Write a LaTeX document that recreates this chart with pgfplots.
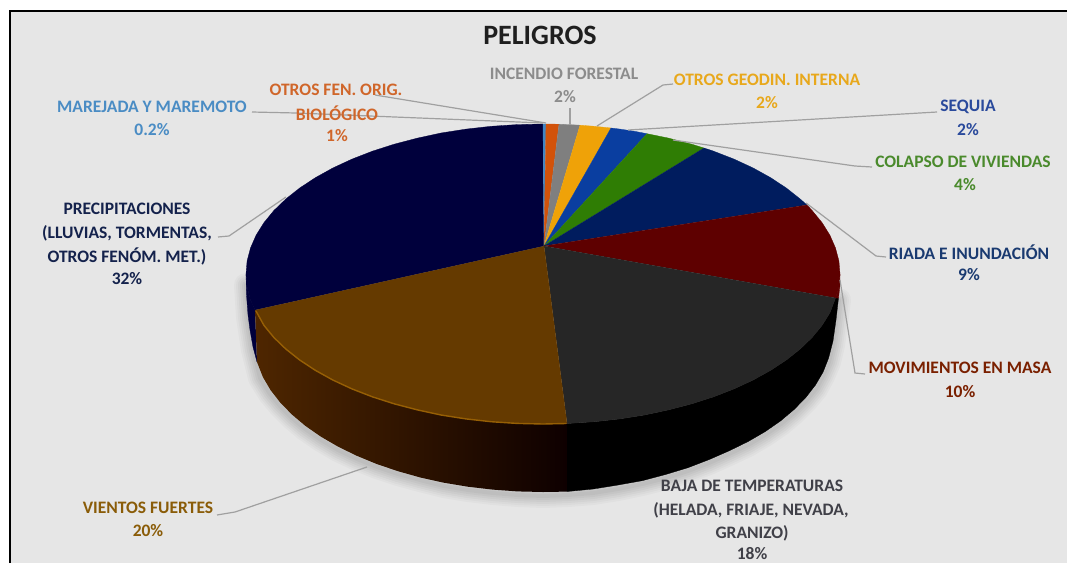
\documentclass[border=0pt]{standalone}
\usepackage{fontspec}
\setmainfont{Carlito}
\usepackage{pgfplots}
\pgfplotsset{compat=1.18}
\definecolor{bgc}{HTML}{E6E6E6}
\definecolor{cMar}{HTML}{3F86C4}
\definecolor{cFen}{HTML}{D2520A}
\definecolor{cInc}{HTML}{7F7F7F}
\definecolor{cGeo}{HTML}{EFA208}
\definecolor{cSeq}{HTML}{0A3EA0}
\definecolor{cCol}{HTML}{2F7D04}
\definecolor{cRia}{HTML}{001C5E}
\definecolor{cMov}{HTML}{5E0000}
\definecolor{cBaj}{HTML}{262626}
\definecolor{cVie}{HTML}{653A00}
\definecolor{cPre}{HTML}{00003C}
\definecolor{tMar}{HTML}{4A8CC4}
\definecolor{tFen}{HTML}{D0662A}
\definecolor{tInc}{HTML}{8C8C8C}
\definecolor{tGeo}{HTML}{E8A81C}
\definecolor{tSeq}{HTML}{2A4A9C}
\definecolor{tCol}{HTML}{4A8A2C}
\definecolor{tRia}{HTML}{1A3A70}
\definecolor{tMov}{HTML}{7A2000}
\definecolor{tBaj}{HTML}{404048}
\definecolor{tVie}{HTML}{8A5C08}
\definecolor{tPre}{HTML}{14224C}
\definecolor{ldr}{HTML}{A0A0A0}
\newcommand{\lbl}[4]{\node[text=#1,font=\fontsize{17.5}{20}\selectfont\bfseries,inner sep=0pt] at (axis cs:#2,#3) {#4};}
\newcommand{\shadowpts}{(246,285)(248,317)(253,350)(260,378)(270,394)(280,406)(292,418)(305,429)(321,440)(338,450)(357,459)(377,467)(398,474)(420,480)(444,486)(468,490)(493,493)(518,495)(543,496)(568,495)(593,493)(618,489)(642,484)(666,478)(688,471)(709,463)(729,454)(748,445)(765,435)(781,424)(794,413)(806,401)(816,389)(823,376)(829,362)(833,345)(836,324)(839,300)}
\begin{document}
\begin{tikzpicture}
\begin{axis}[
  width=1067pt,height=563pt,scale only axis,
  xmin=0,xmax=1067,ymin=0,ymax=563,y dir=reverse,
  hide axis,no markers,
]
% page and panel
\addplot[fill=white,draw=none] coordinates {(0,0)(1067,0)(1067,563)(0,563)};
\addplot[fill=bgc,draw=none] coordinates {(10,11)(1067,11)(1067,563)(10,563)};
\addplot[black,line width=2pt] coordinates {(10,563)(10,11)(1067,11)};
% soft shadow
\addplot[black,opacity=0.025,line width=24pt,line join=round,line cap=round] coordinates {\shadowpts};
\addplot[black,opacity=0.025,line width=20pt,line join=round,line cap=round] coordinates {\shadowpts};
\addplot[black,opacity=0.03,line width=16pt,line join=round,line cap=round] coordinates {\shadowpts};
\addplot[black,opacity=0.03,line width=12pt,line join=round,line cap=round] coordinates {\shadowpts};
\addplot[black,opacity=0.03,line width=8pt,line join=round,line cap=round] coordinates {\shadowpts};
\addplot[black,opacity=0.03,line width=4pt,line join=round,line cap=round] coordinates {\shadowpts};
% side walls
\addplot[fill=cPre,draw=cPre,line width=0.3pt] coordinates {(255,310)(250.5,300)(247.1,287.1)(246,274)(246.5,295)(248,315)(250,330)(253,347)(257,362)};
\addplot[draw=none,left color={rgb,255:red,78;green,38;blue,0},right color={rgb,255:red,14;green,0;blue,0}] coordinates {(255,310)(263.9,325.3)(273.8,337.4)(285.8,349)(299.7,360)(315.5,370.4)(333,380.1)(352,388.9)(372.6,396.9)(394.5,403.9)(417.5,409.9)(441,415)(466,418.9)(491,421.7)(517,423.4)(543,424)(567,423.5)(567,491.6)(543,492)(517.7,491.4)(492.7,489.6)(467.9,486.7)(443.8,482.7)(420.4,477.5)(398,471.2)(376.7,464)(356.6,455.7)(338,446.6)(320.8,436.6)(305.4,425.9)(291.9,414.5)(280.2,402.5)(270.5,390)(262.9,377.1)(257,362)};
\addplot[fill=black,draw=black,line width=0.3pt] coordinates {(567,423.5)(569,423.4)(594.6,421.7)(620,418.9)(644.6,415)(668.5,409.9)(691.5,403.9)(713.4,396.9)(734,388.9)(753,380.1)(770.5,370.4)(786.3,360)(800.2,349)(812.2,337.4)(822.1,325.3)(829.9,312.8)(835.5,298)(838.5,298)(836,320)(833,341)(828.6,358)(823.1,372)(815.5,385)(805.8,397.5)(794.1,409.5)(780.6,420.9)(765.2,431.6)(748,441.6)(729.4,450.7)(709.3,459.5)(688,467.7)(665.6,474.5)(642.2,480.7)(618.1,485)(593.3,489)(568.3,491.4)(567,491.6)};
\addplot[fill=cMov,draw=cMov,line width=0.3pt] coordinates {(840,274)(838.9,287.1)(835.5,298)(838.5,298)(840,285)};
% top face
\addplot[fill=cPre,draw=cPre,line width=0.3pt] coordinates {(544,246)(255,310)(250.5,300)(247.1,287.1)(246,274)(247.1,260.9)(250.5,248)(256.1,235.2)(263.9,222.7)(273.8,210.6)(285.8,199)(299.7,188)(315.5,177.6)(333,167.9)(352,159.1)(372.6,151.1)(394.5,144.1)(417.5,138.1)(441,133)(466,129.1)(491,126.3)(517,124.6)(543,124)};
\addplot[fill=cMar,draw=cMar,line width=0.3pt] coordinates {(544,246)(543,124)(546,124)};
\addplot[fill=cFen,draw=cFen,line width=0.3pt] coordinates {(544,246)(546,124)(559,124.2)};
\addplot[fill=cInc,draw=cInc,line width=0.3pt] coordinates {(544,246)(559,124.2)(569,124.6)(580,125.2)};
\addplot[fill=cGeo,draw=cGeo,line width=0.3pt] coordinates {(544,246)(580,125.2)(594.6,126.3)(611,128)};
\addplot[fill=cSeq,draw=cSeq,line width=0.3pt] coordinates {(544,246)(611,128)(620,129.1)(634,131.2)(647,133.7)};
\addplot[fill=cCol,draw=cCol,line width=0.3pt] coordinates {(544,246)(647,133.7)(668.5,138.1)(691.5,144.1)(704,148)};
\addplot[fill=cRia,draw=cRia,line width=0.3pt] coordinates {(544,246)(704,148)(713.4,151.1)(734,159.1)(753,167.9)(770.5,177.6)(786.3,188)(800.2,199)(807,205)};
\addplot[fill=cMov,draw=cMov,line width=0.3pt] coordinates {(544,246)(807,205)(812.2,210.6)(822.1,222.7)(829.9,235.2)(835.5,248)(838.9,260.9)(840,274)(838.9,287.1)(835.5,298)};
\addplot[fill=cBaj,draw=cBaj,line width=0.3pt] coordinates {(544,246)(835.5,298)(829.9,312.8)(822.1,325.3)(812.2,337.4)(800.2,349)(786.3,360)(770.5,370.4)(753,380.1)(734,388.9)(713.4,396.9)(691.5,403.9)(668.5,409.9)(644.6,415)(620,418.9)(594.6,421.7)(569,423.4)(567,423.5)};
\addplot[fill=cVie,draw=cVie,line width=0.3pt] coordinates {(544,246)(567,423.5)(543,424)(517,423.4)(491,421.7)(466,418.9)(441,415)(417.5,409.9)(394.5,403.9)(372.6,396.9)(352,388.9)(333,380.1)(315.5,370.4)(299.7,360)(285.8,349)(273.8,337.4)(263.9,325.3)(255,310)};
% rim highlight
\addplot[color={rgb,255:red,150;green,95;blue,5},line width=1.4pt,line join=round] coordinates {(256,311)(263.9,325.3)(273.8,337.4)(285.8,349)(299.7,360)(315.5,370.4)(333,380.1)(352,388.9)(372.6,396.9)(394.5,403.9)(417.5,409.9)(441,415)(466,418.9)(491,421.7)(517,423.4)(543,424)(566,423.5)};
% leader lines
\addplot[ldr,line width=1.2pt] coordinates {(252,112)(296,113)(543,123)};
\addplot[ldr,line width=1.2pt] coordinates {(375,95)(546,123)};
\addplot[ldr,line width=1.2pt] coordinates {(570,108)(570,125)};
\addplot[ldr,line width=1.2pt] coordinates {(673,84)(663,85)(597,126)};
\addplot[ldr,line width=1.2pt] coordinates {(937,112)(628,130)};
\addplot[ldr,line width=1.2pt] coordinates {(872,167)(855,166)(673,140)};
\addplot[ldr,line width=1.2pt] coordinates {(886,257)(876,256)(806,203)};
\addplot[ldr,line width=1.2pt] coordinates {(865,374)(855,373)(840,280)};
\addplot[ldr,line width=1.2pt] coordinates {(217,515)(235,512)(367,467)};
\addplot[ldr,line width=1.2pt] coordinates {(218,237)(229,236)(286,197)};
% texts
\node[text=black!88,font=\fontsize{28}{30}\selectfont\bfseries,inner sep=0pt] at (axis cs:540,35) {PELIGROS};
\lbl{tMar}{152}{107}{MAREJADA Y MAREMOTO}
\lbl{tMar}{152}{130}{0.2\%}
\lbl{tFen}{336}{90}{OTROS FEN. ORIG.}
\lbl{tFen}{337}{113}{BIOLÓGICO}
\lbl{tFen}{337}{136}{1\%}
\lbl{tInc}{564}{74}{INCENDIO FORESTAL}
\lbl{tInc}{565}{97}{2\%}
\lbl{tGeo}{767}{80}{OTROS GEODIN. INTERNA}
\lbl{tGeo}{767}{103}{2\%}
\lbl{tSeq}{968}{107}{SEQUIA}
\lbl{tSeq}{968}{130}{2\%}
\lbl{tCol}{963}{162}{COLAPSO DE VIVIENDAS}
\lbl{tCol}{965}{185}{4\%}
\lbl{tRia}{969}{252}{RIADA E INUNDACIÓN}
\lbl{tRia}{969}{275}{9\%}
\lbl{tMov}{960}{368}{MOVIMIENTOS EN MASA}
\lbl{tMov}{960}{392}{10\%}
\lbl{tBaj}{752}{486}{BAJA DE TEMPERATURAS}
\lbl{tBaj}{751}{510}{(HELADA, FRIAJE, NEVADA,}
\lbl{tBaj}{752}{533}{GRANIZO)}
\lbl{tBaj}{752}{554}{18\%}
\lbl{tVie}{148}{508}{VIENTOS FUERTES}
\lbl{tVie}{148}{531}{20\%}
\lbl{tPre}{127}{209}{PRECIPITACIONES}
\lbl{tPre}{127}{233}{(LLUVIAS, TORMENTAS,}
\lbl{tPre}{127}{256}{OTROS FENÓM. MET.)}
\lbl{tPre}{127}{279}{32\%}
\end{axis}
\end{tikzpicture}
\end{document}
